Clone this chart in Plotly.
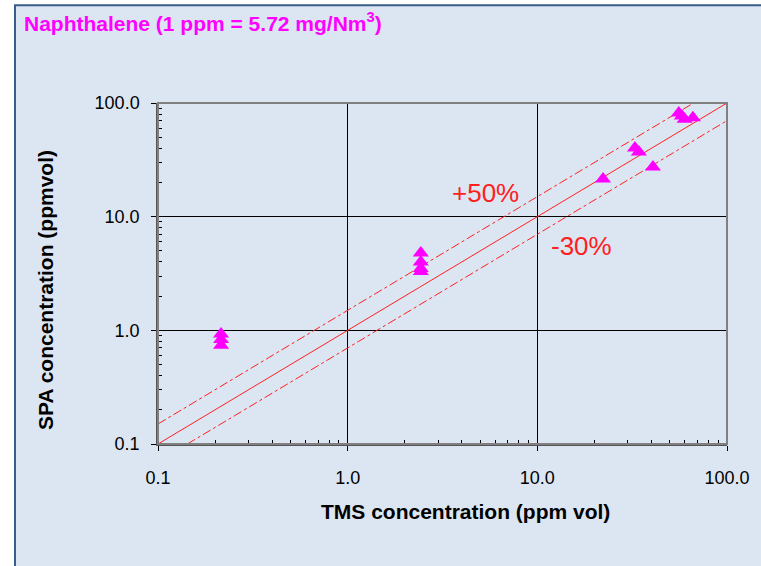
import plotly.graph_objects as go

# Data
tms = [0.215, 0.215, 0.215,
       2.43, 2.43, 2.43, 2.43,
       22.2, 32.7, 34.3, 40.7,
       55.7, 57.8, 59.8, 66.1]
spa = [0.93, 0.83, 0.74,
       4.8, 4.0, 3.5, 3.3,
       21.4, 40.1, 37.0, 27.3,
       81.5, 76.7, 72.0, 74.0]

ref_x = [0.1, 100.0]
ref_x_plus = [0.1, 66.7]
ref_x_minus = [0.1 / 0.7, 100.0]
plus_factor = 1.5
minus_factor = 0.7

tick_vals = [0.1, 1, 10, 100]
tick_text = ["0.1", "1.0", "10.0", "100.0"]

title_text = "Naphthalene (1 ppm = 5.72 mg/Nm<sup>3</sup>)"
x_title = "TMS concentration (ppm vol)"
y_title = "SPA concentration (ppmvol)"

BG = "#DCE6F2"
RED = "#FF2020"
FONT = "Liberation Sans, Arial, sans-serif"

fig = go.Figure()

fig.add_trace(go.Scatter(x=ref_x, y=ref_x, mode="lines",
                         line=dict(color=RED, width=1), hoverinfo="skip"))
fig.add_trace(go.Scatter(x=ref_x_plus, y=[v * plus_factor for v in ref_x_plus], mode="lines",
                         line=dict(color=RED, width=1, dash="dashdot"), hoverinfo="skip"))
fig.add_trace(go.Scatter(x=ref_x_minus, y=[v * minus_factor for v in ref_x_minus], mode="lines",
                         line=dict(color=RED, width=1, dash="dashdot"), hoverinfo="skip"))
fig.add_trace(go.Scatter(x=tms, y=spa, mode="markers",
                         marker=dict(symbol="triangle-up", size=14, color="#FF00FF",
                                     line=dict(width=0))))

axis_common = dict(
    type="log", range=[-1, 2], tickvals=tick_vals, ticktext=tick_text,
    showgrid=True, gridcolor="black", gridwidth=1,
    showline=True, linecolor="#555555", linewidth=1.5, mirror=False,
    ticks="outside", ticklen=5, tickcolor="black",
    tickfont=dict(family=FONT, size=18, color="black"),
    zeroline=False,
    minor=dict(ticks="inside", ticklen=4, tickcolor="black", dtick="D1", showgrid=False),
)

fig.update_xaxes(**axis_common, ticklabelstandoff=12)
fig.update_yaxes(**axis_common, ticklabelstandoff=8)

# plot-area frame
fig.add_shape(type="rect", xref="paper", yref="paper", x0=0, y0=0, x1=1, y1=1,
              line=dict(color="#808080", width=2), layer="above")

# outer chart frame
fig.add_shape(type="rect", xref="paper", yref="paper",
              x0=-0.2513, y0=-0.5, x1=1.2, y1=1.287,
              line=dict(color="#385D8A", width=2), fillcolor=BG, layer="below")

fig.add_annotation(x=(22 - 158) / 569, y=(444 - 22) / 341, xref="paper", yref="paper",
                   xanchor="left", yanchor="middle",
                   text="<b>" + title_text + "</b>", showarrow=False,
                   font=dict(family=FONT, size=21, color="#FF00FF"))

# axis titles
fig.add_annotation(x=(465 - 158) / 569, y=(444 - 511) / 341, xref="paper", yref="paper",
                   xanchor="center", yanchor="middle",
                   text="<b>" + x_title + "</b>", showarrow=False,
                   font=dict(family=FONT, size=21, color="black"))
fig.add_annotation(x=(45 - 158) / 569, y=(444 - 290) / 341, xref="paper", yref="paper",
                   xanchor="center", yanchor="middle", textangle=-90,
                   text="<b>" + y_title + "</b>", showarrow=False,
                   font=dict(family=FONT, size=21, color="black"))

fig.add_annotation(x=0.729, y=1.208, xref="x", yref="y", text="+50%", showarrow=False,
                   font=dict(family=FONT, size=26, color=RED))
fig.add_annotation(x=1.235, y=0.741, xref="x", yref="y", text="-30%", showarrow=False,
                   font=dict(family=FONT, size=26, color=RED))

fig.update_layout(
    width=761, height=566,
    margin=dict(l=158, r=34, t=103, b=122),
    paper_bgcolor="white", plot_bgcolor=BG,
    showlegend=False,
)

fig.write_html("out.html", config={"displayModeBar": False},
               post_script="document.body.style.margin='0';")
